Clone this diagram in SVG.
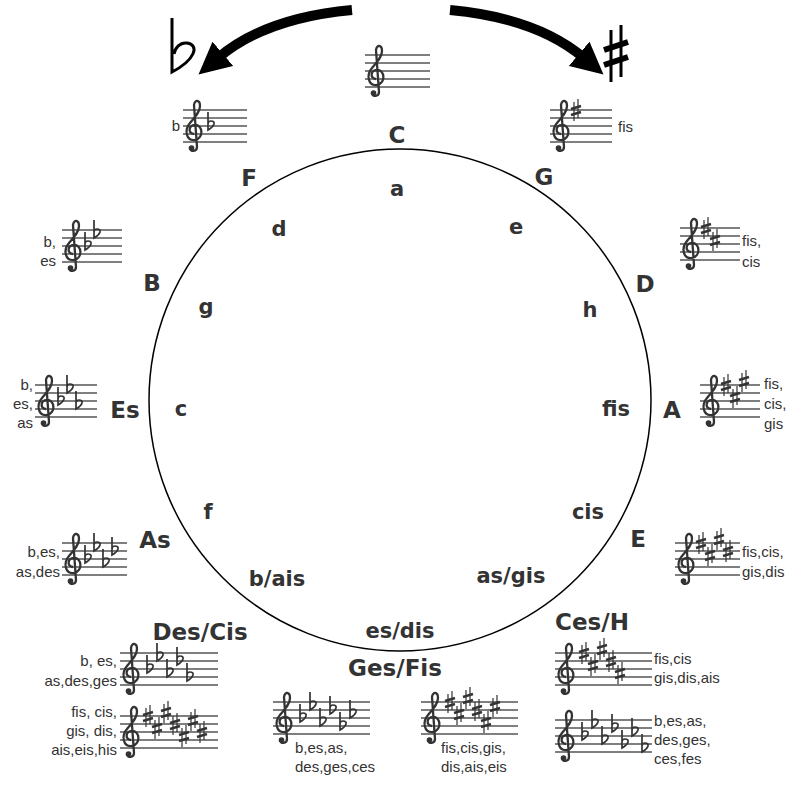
<svg xmlns="http://www.w3.org/2000/svg" xmlns:xlink="http://www.w3.org/1999/xlink" width="800" height="794" viewBox="0 0 800 794">
<style>
.st{stroke:#555;stroke-width:1.3;fill:none}
.lb{font-family:"Liberation Sans",Arial,sans-serif;font-size:15px;fill:#333}
.r{text-anchor:end}
.mj{font-family:"DejaVu Sans",sans-serif;font-weight:bold;font-size:23px;fill:#333;text-anchor:middle}
.mn{font-family:"DejaVu Sans",sans-serif;font-weight:bold;font-size:21px;fill:#333;text-anchor:middle}
</style>
<defs>
<g id="clef"><path d="M9 24C3 24 3 15 10 15C18 15 19 28 10 30C1 31-1 20 5 13C10 7 15 2 15-4C15-10 10-11 9-5L12 37C12 42 5 42 5 38" fill="none" stroke="#333" stroke-width="2.3"/><circle cx="6.5" cy="38" r="2.8" fill="#333"/></g>
<path id="fl" d="M-3-14V4C4 0 5-5 0-5C-2-5-3-3-3-2" fill="none" stroke="#333" stroke-width="1.7"/>
<g id="sh" stroke="#333"><path d="M-2-8V11M2-11V8" stroke-width="1.2"/><path d="M-5-1L5-4M-5 5L5 2" stroke-width="2.4"/></g>
<marker id="ah" viewBox="0 0 10 10" refX="2" refY="5" markerWidth="3.2" markerHeight="3.2" orient="auto"><path d="M0 0L10 5L0 10z" fill="#000"/></marker>
</defs>
<g id="connectors">
<path d="M352 10Q265 18 218 58" fill="none" stroke="#000" stroke-width="10" marker-end="url(#ah)"/>
<path d="M450 10Q537 18 584 58" fill="none" stroke="#000" stroke-width="10" marker-end="url(#ah)"/>
</g>
<path id="bigflat" d="M172 18V72C195 60 200 45 187 43C180 42 175 48 174 54" fill="none" stroke="#000" stroke-width="3"/>
<g id="bigsharp" stroke="#000"><path d="M611 30V82M621 25V77" stroke-width="3"/><path d="M604 50L628 42M604 65L628 57" stroke-width="6"/></g>
<circle id="circle" cx="400" cy="400" r="251" fill="none" stroke="#000" stroke-width="1.5"/>
<g id="majors">
<text class="mj" x="397" y="143">C</text><text class="mj" x="249" y="186">F</text><text class="mj" x="544" y="185">G</text>
<text class="mj" x="152" y="291">B</text><text class="mj" x="645" y="292">D</text><text class="mj" x="125" y="418">Es</text>
<text class="mj" x="672" y="418">A</text><text class="mj" x="155" y="548">As</text><text class="mj" x="638" y="547">E</text>
<text class="mj" x="200" y="640">Des/Cis</text><text class="mj" x="592" y="630">Ces/H</text><text class="mj" x="395" y="676">Ges/Fis</text>
</g>
<g id="minors">
<text class="mn" x="397" y="196">a</text><text class="mn" x="279" y="236">d</text><text class="mn" x="516" y="234">e</text>
<text class="mn" x="206" y="314">g</text><text class="mn" x="590" y="317">h</text><text class="mn" x="181" y="416">c</text>
<text class="mn" x="616" y="416">fis</text><text class="mn" x="208" y="519">f</text><text class="mn" x="588" y="519">cis</text>
<text class="mn" x="277" y="586">b/ais</text><text class="mn" x="511" y="583">as/gis</text><text class="mn" x="400" y="638">es/dis</text>
</g>
<g id="staff-C" transform="translate(365,55)"><path class="st" d="M0 0h65M0 8h65M0 16h65M0 24h65M0 32h65"/><use xlink:href="#clef" x="2"/></g>
<g id="staff-F" transform="translate(183,110)"><path class="st" d="M0 0h64M0 8h64M0 16h64M0 24h64M0 32h64"/><use xlink:href="#clef" x="2"/><use xlink:href="#fl" x="28" y="16"/></g>
<text class="lb r" x="180" y="131">b</text>
<g id="staff-G" transform="translate(550,110)"><path class="st" d="M0 0h62M0 8h62M0 16h62M0 24h62M0 32h62"/><use xlink:href="#clef" x="2"/><use xlink:href="#sh" x="26" y="0"/></g>
<text class="lb" x="618" y="132">fis</text>
<g id="staff-B" transform="translate(62,230)"><path class="st" d="M0 0h60M0 8h60M0 16h60M0 24h60M0 32h60"/><use xlink:href="#clef" x="2"/><use xlink:href="#fl" x="26" y="16"/><use xlink:href="#fl" x="35" y="4"/></g>
<text class="lb r" x="56" y="247">b,</text><text class="lb r" x="56" y="266">es</text>
<g id="staff-D" transform="translate(680,228)"><path class="st" d="M0 0h60M0 8h60M0 16h60M0 24h60M0 32h60"/><use xlink:href="#clef" x="2"/><use xlink:href="#sh" x="26" y="0"/><use xlink:href="#sh" x="35" y="12"/></g>
<text class="lb" x="742" y="246">fis,</text><text class="lb" x="742" y="267">cis</text>
<g id="staff-Es" transform="translate(35,385)"><path class="st" d="M0 0h62M0 8h62M0 16h62M0 24h62M0 32h62"/><use xlink:href="#clef" x="2"/><use xlink:href="#fl" x="26" y="16"/><use xlink:href="#fl" x="35" y="4"/><use xlink:href="#fl" x="44" y="20"/></g>
<text class="lb r" x="33" y="390">b,</text><text class="lb r" x="33" y="409">es,</text><text class="lb r" x="33" y="428">as</text>
<g id="staff-A" transform="translate(700,385)"><path class="st" d="M0 0h60M0 8h60M0 16h60M0 24h60M0 32h60"/><use xlink:href="#clef" x="2"/><use xlink:href="#sh" x="26" y="0"/><use xlink:href="#sh" x="35" y="12"/><use xlink:href="#sh" x="44" y="-4"/></g>
<text class="lb" x="764" y="389">fis,</text><text class="lb" x="764" y="409">cis,</text><text class="lb" x="764" y="429">gis</text>
<g id="staff-As" transform="translate(62,543)"><path class="st" d="M0 0h65M0 8h65M0 16h65M0 24h65M0 32h65"/><use xlink:href="#clef" x="2"/><use xlink:href="#fl" x="26" y="16"/><use xlink:href="#fl" x="35" y="4"/><use xlink:href="#fl" x="44" y="20"/><use xlink:href="#fl" x="53" y="8"/></g>
<text class="lb r" x="60" y="557">b,es,</text><text class="lb r" x="60" y="577">as,des</text>
<g id="staff-E" transform="translate(675,543)"><path class="st" d="M0 0h65M0 8h65M0 16h65M0 24h65M0 32h65"/><use xlink:href="#clef" x="2"/><use xlink:href="#sh" x="26" y="0"/><use xlink:href="#sh" x="35" y="12"/><use xlink:href="#sh" x="44" y="-4"/><use xlink:href="#sh" x="53" y="8"/></g>
<text class="lb" x="742" y="557">fis,cis,</text><text class="lb" x="742" y="577">gis,dis</text>
<g id="staff-Des" transform="translate(120,653)"><path class="st" d="M0 0h98M0 8h98M0 16h98M0 24h98M0 32h98"/><use xlink:href="#clef" x="2"/><use xlink:href="#fl" x="30" y="16"/><use xlink:href="#fl" x="40" y="4"/><use xlink:href="#fl" x="50" y="20"/><use xlink:href="#fl" x="60" y="8"/><use xlink:href="#fl" x="70" y="24"/></g>
<text class="lb r" x="117" y="666">b, es,</text><text class="lb r" x="117" y="686">as,des,ges</text>
<g id="staff-Cis" transform="translate(120,716)"><path class="st" d="M0 0h98M0 8h98M0 16h98M0 24h98M0 32h98"/><use xlink:href="#clef" x="2"/><use xlink:href="#sh" x="28" y="0"/><use xlink:href="#sh" x="37" y="12"/><use xlink:href="#sh" x="46" y="-4"/><use xlink:href="#sh" x="55" y="8"/><use xlink:href="#sh" x="64" y="20"/><use xlink:href="#sh" x="73" y="4"/><use xlink:href="#sh" x="82" y="16"/></g>
<text class="lb r" x="117" y="717">fis, cis,</text><text class="lb r" x="117" y="736">gis, dis,</text><text class="lb r" x="117" y="755">ais,eis,his</text>
<g id="staff-Ges" transform="translate(273,702)"><path class="st" d="M0 0h97M0 8h97M0 16h97M0 24h97M0 32h97"/><use xlink:href="#clef" x="2"/><use xlink:href="#fl" x="30" y="16"/><use xlink:href="#fl" x="40" y="4"/><use xlink:href="#fl" x="50" y="20"/><use xlink:href="#fl" x="60" y="8"/><use xlink:href="#fl" x="70" y="24"/><use xlink:href="#fl" x="80" y="12"/></g>
<text class="lb" x="295" y="753">b,es,as,</text><text class="lb" x="295" y="772">des,ges,ces</text>
<g id="staff-Fis" transform="translate(421,702)"><path class="st" d="M0 0h97M0 8h97M0 16h97M0 24h97M0 32h97"/><use xlink:href="#clef" x="2"/><use xlink:href="#sh" x="29" y="0"/><use xlink:href="#sh" x="38" y="12"/><use xlink:href="#sh" x="47" y="-4"/><use xlink:href="#sh" x="56" y="8"/><use xlink:href="#sh" x="65" y="20"/><use xlink:href="#sh" x="74" y="4"/></g>
<text class="lb" x="441" y="753">fis,cis,gis,</text><text class="lb" x="441" y="772">dis,ais,eis</text>
<g id="staff-H" transform="translate(555,653)"><path class="st" d="M0 0h97M0 8h97M0 16h97M0 24h97M0 32h97"/><use xlink:href="#clef" x="2"/><use xlink:href="#sh" x="29" y="0"/><use xlink:href="#sh" x="38" y="12"/><use xlink:href="#sh" x="47" y="-4"/><use xlink:href="#sh" x="56" y="8"/><use xlink:href="#sh" x="65" y="20"/></g>
<text class="lb" x="654" y="664">fis,cis</text><text class="lb" x="654" y="683">gis,dis,ais</text>
<g id="staff-Ces" transform="translate(555,720)"><path class="st" d="M0 0h97M0 8h97M0 16h97M0 24h97M0 32h97"/><use xlink:href="#clef" x="2"/><use xlink:href="#fl" x="30" y="16"/><use xlink:href="#fl" x="40" y="4"/><use xlink:href="#fl" x="50" y="20"/><use xlink:href="#fl" x="60" y="8"/><use xlink:href="#fl" x="70" y="24"/><use xlink:href="#fl" x="80" y="12"/><use xlink:href="#fl" x="90" y="28"/></g>
<text class="lb" x="654" y="726">b,es,as,</text><text class="lb" x="654" y="745">des,ges,</text><text class="lb" x="654" y="764">ces,fes</text>
</svg>
